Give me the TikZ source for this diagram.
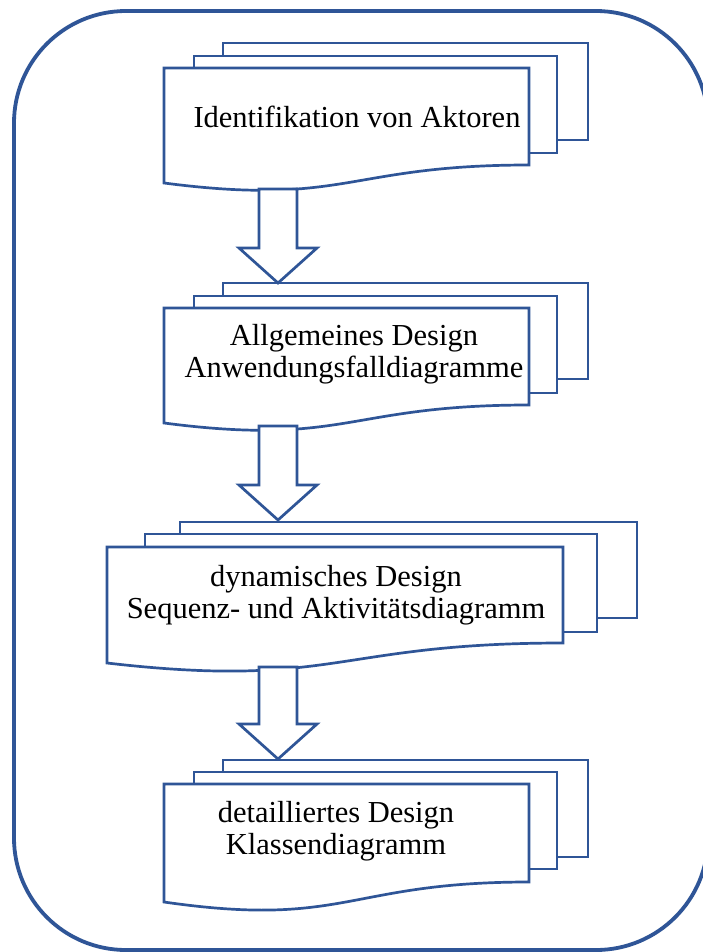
\documentclass[tikz,border=0pt]{standalone}
\usepackage{fontspec}
\setmainfont{Liberation Serif}[Ligatures=CommonOff]
\usetikzlibrary{calc}

\definecolor{frameblue}{RGB}{47,85,151}

% stacked "multi-document" symbol: back sheet, middle sheet, front sheet with wavy bottom
% #1 left, #2 top, #3 right, #4 bottom at right, #5 bottom at left of the front sheet
\newcommand\frontsheet[5]{%
  \draw[sheet] (#1,#2) -- (#3,#2) -- (#3,#4)
    .. controls ({(#1+#3)/2},#4) and ({(#1+#3)/2},{#4+2.316*(#5-#4)}) .. (#1,#5) -- cycle;}

% hollow block arrow from a start point straight down to a tip
\newcommand\blockarrow[2]{%
  \draw[barrow] let \p1=(#1), \p2=(#2) in
    (\x1-19pt,\y1) -- (\x1+19pt,\y1) -- (\x1+19pt,\y2+35pt) -- (\x1+39pt,\y2+35pt)
    -- (\x2,\y2) -- (\x1-39pt,\y2+35pt) -- (\x1-19pt,\y2+35pt) -- cycle;}

\tikzset{
  sheet/.style={draw=frameblue, line width=2.7pt, fill=white, line join=miter},
  barrow/.style={draw=frameblue, line width=2.7pt, fill=white, line join=miter},
  outer/.style={draw=frameblue, line width=3.8pt, rounded corners=112pt},
  label/.style={align=center, anchor=base, inner sep=0pt,
    font=\fontsize{30.5}{31.5}\selectfont, text=black},
}

\begin{document}
\begin{tikzpicture}[x=1pt, y=-1pt]
\path[use as bounding box, fill=white] (0,0) rectangle (702,952);

% surrounding frame
\draw[outer] (14,11) rectangle (708,950);

% step 1
\draw[sheet] (223,43) rectangle (588,140);
\draw[sheet] (194,56) rectangle (557,153);
\frontsheet{164}{68}{529}{165}{183}
\node[label] (t1) at (357,128) {Identifikation von Aktoren};
\coordinate (s1) at (278,189);

% step 2 (label anchored on the baseline of its last line)
\coordinate (e2) at (278,283);
\draw[sheet] (223,283) rectangle (588,379);
\draw[sheet] (194,296) rectangle (557,393);
\frontsheet{164}{308}{529}{405}{423}
\node[label] (t2) at (354,377) {Allgemeines Design\\Anwendungsfalldiagramme};
\coordinate (s2) at (278,426);

% step 3
\coordinate (e3) at (278,520);
\draw[sheet] (180,522) rectangle (637,618);
\draw[sheet] (145,534) rectangle (597,632);
\frontsheet{107}{547}{563}{643}{663}
\node[label] (t3) at (336,618) {dynamisches Design\\Sequenz- und Aktivitätsdiagramm};
\coordinate (s3) at (278,667);

% step 4
\coordinate (e4) at (278,759);
\draw[sheet] (223,760) rectangle (588,857);
\draw[sheet] (194,772) rectangle (557,869);
\frontsheet{164}{784}{529}{882}{902}
\node[label] (t4) at (336,854) {detailliertes Design\\Klassendiagramm};

% arrows between the steps
\blockarrow{s1}{e2}
\blockarrow{s2}{e3}
\blockarrow{s3}{e4}
\end{tikzpicture}
\end{document}
